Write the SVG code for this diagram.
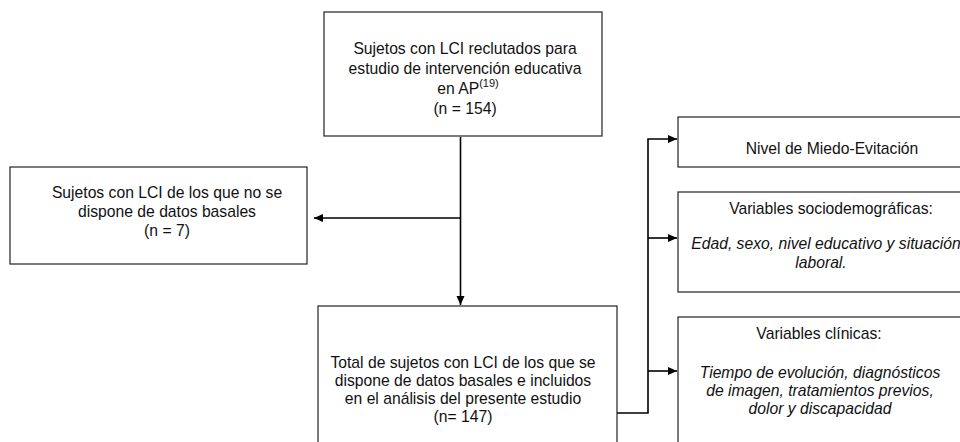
<svg xmlns="http://www.w3.org/2000/svg" width="960" height="442" viewBox="0 0 960 442">
<defs>
<marker id="arr" markerWidth="10" markerHeight="10" refX="9" refY="5" orient="auto" markerUnits="userSpaceOnUse">
<path d="M0,1 L9,5 L0,9 Z" fill="#000"/>
</marker>
<style>
.box{fill:#fff;stroke:#222;stroke-width:1.2}
.t{font-family:"Liberation Sans",Arial,sans-serif;font-size:15.7px;fill:#111;text-anchor:middle}
.i{font-style:italic}
.c{fill:none;stroke:#000;stroke-width:1.6}
</style>
</defs>
<rect width="960" height="442" fill="#fff"/>
<g id="connectors">
<path class="c" d="M460.5,137 V305" marker-end="url(#arr)"/>
<path class="c" d="M460.5,218 H314" marker-end="url(#arr)"/>
<path class="c" d="M617,413 H648 V139 H677" marker-end="url(#arr)"/>
<path class="c" d="M648,238 H677" marker-end="url(#arr)"/>
<path class="c" d="M648,371 H677" marker-end="url(#arr)"/>
</g>
<g id="n_reclutados">
<rect class="box" x="324" y="12" width="278" height="124"/>
<text class="t" x="465" y="54">Sujetos con LCI reclutados para</text>
<text class="t" x="465" y="74">estudio de intervención educativa</text>
<text class="t" x="468" y="94">en AP<tspan font-size="11" dy="-7">(19)</tspan></text>
<text class="t" x="465" y="114">(n = 154)</text>
</g>
<g id="n_sin_datos">
<rect class="box" x="10" y="167" width="297" height="97"/>
<text class="t" x="167" y="198">Sujetos con LCI de los que no se</text>
<text class="t" x="167" y="217">dispone de datos basales</text>
<text class="t" x="167" y="236">(n = 7)</text>
</g>
<g id="n_total">
<rect class="box" x="318" y="306" width="299" height="150"/>
<text class="t" x="463" y="368">Total de sujetos con LCI de los que se</text>
<text class="t" x="463" y="386">dispone de datos basales e incluidos</text>
<text class="t" x="463" y="404">en el análisis del presente estudio</text>
<text class="t" x="463" y="422">(n= 147)</text>
</g>
<g id="n_miedo">
<rect class="box" x="678" y="117" width="310" height="50"/>
<text class="t" x="832" y="154">Nivel de Miedo-Evitación</text>
</g>
<g id="n_socio">
<rect class="box" x="678" y="192" width="310" height="100"/>
<text class="t" x="831" y="214">Variables sociodemográficas:</text>
<text class="t i" x="826" y="249">Edad, sexo, nivel educativo y situación</text>
<text class="t i" x="821" y="268">laboral.</text>
</g>
<g id="n_clinicas">
<rect class="box" x="678" y="317" width="310" height="140"/>
<text class="t" x="819" y="339">Variables clínicas:</text>
<text class="t i" x="820" y="378">Tiempo de evolución, diagnósticos</text>
<text class="t i" x="820" y="396">de imagen, tratamientos previos,</text>
<text class="t i" x="820" y="414">dolor y discapacidad</text>
</g>
</svg>
